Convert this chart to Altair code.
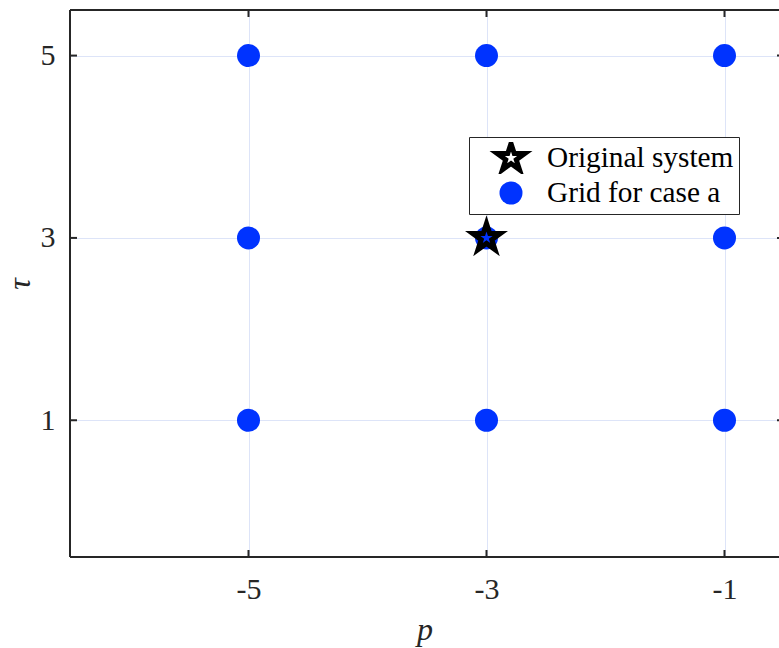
import altair as alt
import pandas as pd

# ---- data ----
grid_p = [-5, -5, -5, -3, -3, -3, -1, -1, -1]
grid_tau = [1, 3, 5, 1, 3, 5, 1, 3, 5]
orig_p = [-3]
orig_tau = [3]
series_names = ["Original system", "Grid for case a"]
x_ticks = [-5, -3, -1]
y_ticks = [1, 3, 5]

df = pd.DataFrame({
    "p": grid_p + orig_p,
    "tau": grid_tau + orig_tau,
    "series": [series_names[1]] * len(grid_p) + [series_names[0]] * len(orig_p),
})
xt = pd.DataFrame({"p": x_ticks})
yt = pd.DataFrame({"tau": y_ticks})

FONT = "Liberation Serif, Times New Roman, serif"
DARK = "#262626"
GRID = "#dde4f8"
W, H = 709, 547
PENTAGRAM = ("M0,-1L0.2245,-0.309L0.951,-0.309L0.3633,0.118L0.588,0.809L0,0.382"
             "L-0.588,0.809L-0.3633,0.118L-0.951,-0.309L-0.2245,-0.309Z")

# x axis runs from -6.5; the right edge of the frame lies just outside the window
x_scale = alt.Scale(domain=[-6.5, -6.5 + W / 119.0], nice=False, zero=False)
y_scale = alt.Scale(domain=[-0.5, 5.5], nice=False, zero=False)

axis_style = dict(grid=True, ticks=False, domain=False,
                  labelExpr="datum.value + ''",
                  labelFont=FONT, labelFontSize=30, labelColor=DARK,
                  titleFont=FONT, titleFontSize=32, titleColor=DARK,
                  titleFontStyle="italic", titleFontWeight="normal",
                  gridColor=GRID, gridWidth=1)

points = alt.Chart(df).mark_point(opacity=1).encode(
    x=alt.X("p:Q", scale=x_scale,
            axis=alt.Axis(values=x_ticks, title="p", labelPadding=17, titlePadding=10, **axis_style)),
    y=alt.Y("tau:Q", scale=y_scale,
            axis=alt.Axis(values=y_ticks, title="τ", labelPadding=15, titlePadding=4, **axis_style)),
    shape=alt.Shape("series:N", scale=alt.Scale(domain=series_names, range=[PENTAGRAM, "circle"]),
                    legend=alt.Legend(title=None)),
    fill=alt.Fill("series:N", scale=alt.Scale(domain=series_names, range=["transparent", "#0033ff"]),
                  legend=alt.Legend(title=None)),
    stroke=alt.Stroke("series:N", scale=alt.Scale(domain=series_names, range=["#000000", "#0033ff"]),
                      legend=alt.Legend(title=None)),
    strokeWidth=alt.StrokeWidth("series:N", scale=alt.Scale(domain=series_names, range=[5, 0]),
                                legend=alt.Legend(title=None)),
    size=alt.Size("series:N", scale=alt.Scale(domain=series_names, range=[841, 529]),
                  legend=alt.Legend(title=None)),
)

TL = 7  # inward tick length
tick_style = dict(color=DARK, strokeWidth=2)
bottom_ticks = alt.Chart(xt).mark_rule(**tick_style).encode(
    x=alt.X("p:Q", scale=x_scale), y=alt.value(H), y2=alt.value(H - TL))
top_ticks = alt.Chart(xt).mark_rule(**tick_style).encode(
    x=alt.X("p:Q", scale=x_scale), y=alt.value(0), y2=alt.value(TL))
left_ticks = alt.Chart(yt).mark_rule(**tick_style).encode(
    y=alt.Y("tau:Q", scale=y_scale), x=alt.value(0), x2=alt.value(TL))
right_ticks = alt.Chart(yt).mark_rule(**tick_style).encode(
    y=alt.Y("tau:Q", scale=y_scale), x=alt.value(W + 5), x2=alt.value(W + 5 - TL))

frame_style = dict(color=DARK, strokeWidth=2)
frame_left = alt.Chart(xt).mark_rule(**frame_style).encode(
    x=alt.value(0), y=alt.value(0), y2=alt.value(H))
frame_top = alt.Chart(xt).mark_rule(**frame_style).encode(
    x=alt.value(0), x2=alt.value(W + 5), y=alt.value(0))
frame_bottom = alt.Chart(xt).mark_rule(**frame_style).encode(
    x=alt.value(0), x2=alt.value(W + 5), y=alt.value(H))

chart = alt.layer(
    bottom_ticks, top_ticks, left_ticks, right_ticks,
    points,
    frame_left, frame_top, frame_bottom,
).properties(
    width=W, height=H,
    autosize=alt.AutoSizeParams(type="none"),
    padding={"left": 70, "top": 10, "right": 0, "bottom": 91},
    background="white",
).configure_view(
    stroke=None,
).configure_legend(
    orient="none", legendX=399, legendY=127,
    strokeColor=DARK, fillColor="white", padding=5,
    labelFont=FONT, labelFontSize=29.3, labelColor="#000000", labelLimit=400,
    symbolOffset=20, labelOffset=19, rowPadding=3, clipHeight=32,
)

chart.save("out.html", embed_options={"renderer": "svg", "actions": False})
